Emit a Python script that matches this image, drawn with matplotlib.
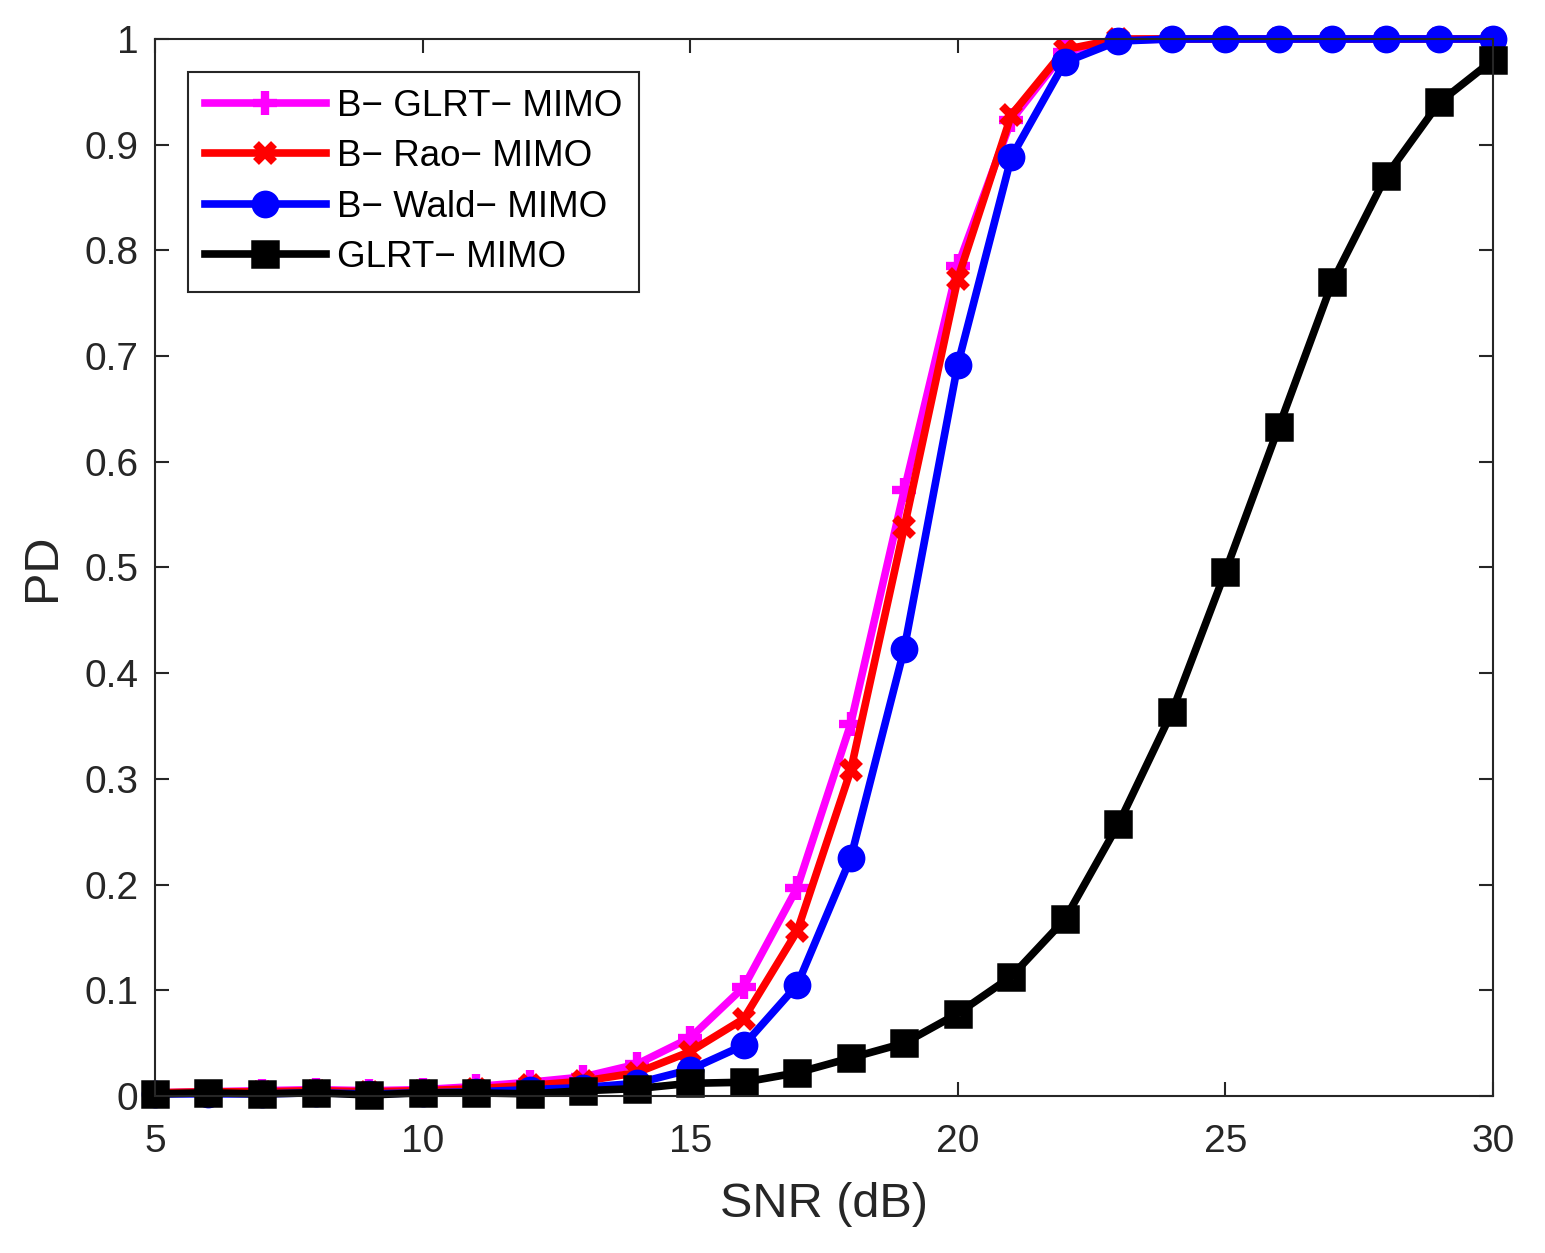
import numpy as np
import matplotlib
matplotlib.use('Agg')
import matplotlib.pyplot as plt

plt.rcParams['font.family'] = ['Liberation Sans', 'DejaVu Sans']

snr = list(range(5, 31))

b_glrt = [0.003, 0.004, 0.005, 0.006, 0.005, 0.006, 0.009, 0.013, 0.018, 0.030,
          0.055, 0.103, 0.197, 0.352, 0.573, 0.785, 0.923, 0.988, 0.999, 1.0,
          1.0, 1.0, 1.0, 1.0, 1.0, 1.0]
b_rao = [0.003, 0.004, 0.004, 0.005, 0.004, 0.005, 0.007, 0.010, 0.014, 0.022,
         0.042, 0.073, 0.156, 0.308, 0.538, 0.773, 0.928, 0.990, 1.0, 1.0,
         1.0, 1.0, 1.0, 1.0, 1.0, 1.0]
b_wald = [0.002, 0.002, 0.002, 0.003, 0.002, 0.003, 0.004, 0.006, 0.008, 0.012,
          0.025, 0.048, 0.105, 0.225, 0.423, 0.692, 0.888, 0.978, 0.998, 1.0,
          1.0, 1.0, 1.0, 1.0, 1.0, 1.0]
glrt = [0.002, 0.003, 0.002, 0.003, 0.001, 0.003, 0.003, 0.002, 0.005, 0.007,
        0.012, 0.013, 0.022, 0.036, 0.050, 0.078, 0.113, 0.167, 0.257, 0.363,
        0.496, 0.633, 0.770, 0.870, 0.940, 0.980]

labels = ['B\u2212 GLRT\u2212 MIMO', 'B\u2212 Rao\u2212 MIMO',
          'B\u2212 Wald\u2212 MIMO', 'GLRT\u2212 MIMO']

fig = plt.figure(figsize=(15.45, 12.53), dpi=100)
ax = fig.add_axes([0.1003, 0.1253, 0.866, 0.8436])

lw = 5.5
ax.plot(snr, b_glrt, color='#ff00ff', lw=lw, marker='+', ms=17, mew=6,
        label=labels[0], clip_on=False)
ax.plot(snr, b_rao, color='#ff0000', lw=lw, marker='x', ms=13, mew=6,
        label=labels[1], clip_on=False)
ax.plot(snr, b_wald, color='#0000ff', lw=lw, marker='o', ms=16, mew=4,
        label=labels[2], clip_on=False)
ax.plot(snr, glrt, color='black', lw=lw, marker='s', ms=11, mew=9, mfc='none',
        label=labels[3], clip_on=False)

ax.set_xlim(5, 30)
ax.set_ylim(0, 1)
ax.set_xticks([5, 10, 15, 20, 25, 30])
ax.set_yticks(np.arange(0, 1.01, 0.1))
ax.set_yticklabels(['0', '0.1', '0.2', '0.3', '0.4', '0.5', '0.6', '0.7', '0.8', '0.9', '1'])

ax.tick_params(direction='in', length=10, width=1.5, top=True, right=True,
               labelsize=28, colors='#262626')
ax.tick_params(axis='x', pad=20)
ax.tick_params(axis='y', pad=12)
for s in ax.spines.values():
    s.set_linewidth(1.5)
    s.set_color('#262626')

ax.set_xlabel('SNR (dB)', fontsize=35, color='#262626', labelpad=16)
ax.set_ylabel('PD', fontsize=35, color='#262626', labelpad=14)

leg = ax.legend(loc='upper left', fontsize=26.5, handlelength=3.3, handletextpad=0.3,
                labelspacing=0.42, borderaxespad=0.9, fancybox=False, framealpha=1,
                edgecolor='#262626', borderpad=0.45)
leg.get_frame().set_linewidth(1.5)

fig.savefig('out.png', dpi=100)
